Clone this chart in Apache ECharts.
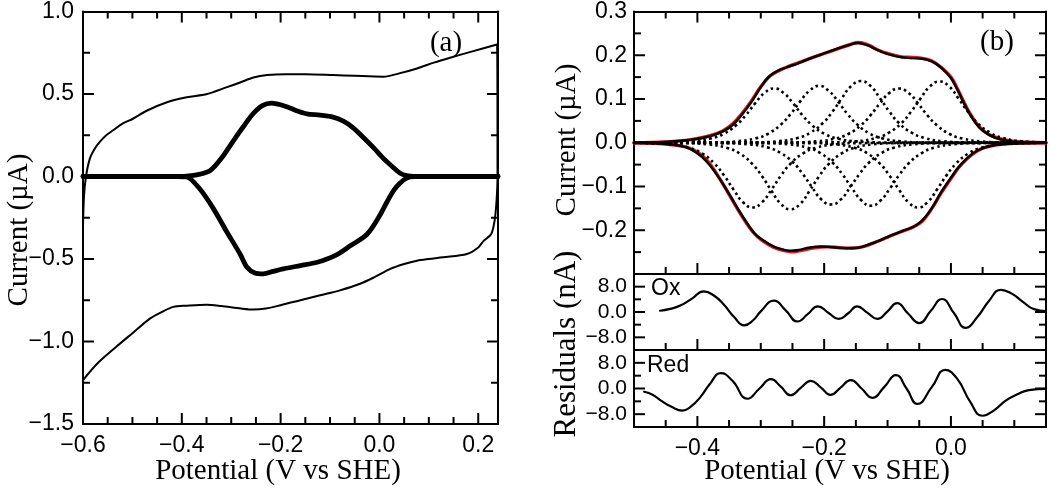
<!DOCTYPE html>
<html>
<head>
<meta charset="utf-8">
<script src="https://cdn.jsdelivr.net/npm/echarts@6/dist/echarts.min.js"></script>
<style>
  html, body { margin: 0; background: #fff; }
  #chart { width: 1050px; height: 489px; }
</style>
</head>
<body>
<div id="chart"></div>
<script>
// ---- panel (a): cyclic voltammograms, [potential V, current uA] ----
const cvBackground = [
  [-0.6, -0.3], [-0.598, -0.12], [-0.594, 0.0], [-0.586, 0.11], [-0.576, 0.17], [-0.566, 0.21],
  [-0.553, 0.25], [-0.539, 0.28], [-0.52, 0.32], [-0.499, 0.35], [-0.47, 0.40], [-0.43, 0.45],
  [-0.39, 0.48], [-0.349, 0.50], [-0.31, 0.54], [-0.282, 0.57], [-0.255, 0.60], [-0.227, 0.615],
  [-0.19, 0.62], [-0.15, 0.62], [-0.094, 0.615], [-0.05, 0.61], [0.008, 0.605], [0.04, 0.625],
  [0.076, 0.655], [0.11, 0.69], [0.143, 0.72], [0.19, 0.76], [0.238, 0.8],
  [0.239, 0.0], [0.237, -0.15], [0.233, -0.27], [0.226, -0.35], [0.211, -0.39], [0.2, -0.43],
  [0.177, -0.47], [0.129, -0.49], [0.1, -0.50], [0.076, -0.51], [0.05, -0.53], [0.022, -0.56],
  [-0.01, -0.61], [-0.039, -0.65], [-0.08, -0.69], [-0.12, -0.72], [-0.16, -0.75], [-0.2, -0.78],
  [-0.23, -0.80], [-0.255, -0.806], [-0.28, -0.80], [-0.32, -0.785], [-0.35, -0.777], [-0.39, -0.783],
  [-0.417, -0.79], [-0.44, -0.82], [-0.464, -0.86], [-0.5, -0.95], [-0.532, -1.03], [-0.57, -1.13],
  [-0.6, -1.234]
];
const cvProteinOx = [
  [-0.6, 0], [-0.40, 0], [-0.39, 0.002], [-0.37, 0.01], [-0.343, 0.035], [-0.32, 0.11],
  [-0.296, 0.215], [-0.276, 0.30], [-0.256, 0.38], [-0.237, 0.43], [-0.218, 0.445], [-0.2, 0.435],
  [-0.181, 0.415], [-0.164, 0.395], [-0.147, 0.38], [-0.12, 0.372], [-0.094, 0.36], [-0.073, 0.335],
  [-0.053, 0.295], [-0.032, 0.235], [-0.012, 0.175], [0.008, 0.11], [0.028, 0.055], [0.042, 0.02],
  [0.055, 0.005], [0.07, 0], [0.24, 0]
];
const cvProteinRed = [
  [-0.6, 0], [-0.41, 0], [-0.39, -0.003], [-0.365, -0.07], [-0.337, -0.19], [-0.31, -0.33],
  [-0.282, -0.47], [-0.268, -0.55], [-0.252, -0.585], [-0.235, -0.59], [-0.215, -0.575],
  [-0.195, -0.56], [-0.16, -0.54], [-0.126, -0.52], [-0.09, -0.48], [-0.059, -0.42],
  [-0.025, -0.35], [0.0, -0.24], [0.016, -0.15], [0.03, -0.08], [0.042, -0.04], [0.055, -0.01],
  [0.07, 0], [0.24, 0]
];

// ---- panel (b): baseline-subtracted data and fit, [potential V, current uA] ----
const measOx = [
  [-0.50, 0], [-0.46, 0.001], [-0.43, 0.004], [-0.40, 0.009], [-0.38, 0.015], [-0.36, 0.026],
  [-0.345, 0.040], [-0.33, 0.064], [-0.315, 0.093], [-0.30, 0.127], [-0.288, 0.150], [-0.275, 0.163],
  [-0.26, 0.172], [-0.242, 0.181], [-0.225, 0.191], [-0.21, 0.199], [-0.195, 0.207], [-0.179, 0.215],
  [-0.162, 0.223], [-0.147, 0.228], [-0.132, 0.223], [-0.116, 0.212], [-0.10, 0.203], [-0.084, 0.197],
  [-0.068, 0.194], [-0.052, 0.193], [-0.038, 0.190], [-0.025, 0.182], [-0.012, 0.167], [0.0, 0.148],
  [0.01, 0.122], [0.02, 0.092], [0.03, 0.065], [0.044, 0.036], [0.06, 0.018], [0.075, 0.009],
  [0.095, 0.003], [0.12, 0.001], [0.15, 0]
];
const measRed = [
  [-0.50, 0], [-0.46, -0.002], [-0.43, -0.006], [-0.41, -0.015], [-0.393, -0.032], [-0.38, -0.052],
  [-0.365, -0.082], [-0.35, -0.117], [-0.33, -0.165], [-0.31, -0.207], [-0.295, -0.224], [-0.28, -0.237],
  [-0.265, -0.244], [-0.253, -0.247], [-0.24, -0.245], [-0.225, -0.240], [-0.205, -0.237],
  [-0.185, -0.239], [-0.165, -0.241], [-0.147, -0.240], [-0.13, -0.233], [-0.115, -0.225],
  [-0.098, -0.214], [-0.084, -0.206], [-0.066, -0.196], [-0.052, -0.186], [-0.04, -0.169],
  [-0.028, -0.145], [-0.015, -0.112], [0.0, -0.080], [0.012, -0.056], [0.023, -0.039], [0.037, -0.022],
  [0.05, -0.013], [0.07, -0.005], [0.10, -0.002], [0.15, 0]
];
const fitOx = [
  [-0.50, 0], [-0.45, 0.002], [-0.41, 0.007], [-0.38, 0.016], [-0.36, 0.027], [-0.345, 0.042],
  [-0.33, 0.066], [-0.315, 0.095], [-0.30, 0.128], [-0.285, 0.153], [-0.27, 0.166], [-0.255, 0.175],
  [-0.24, 0.183], [-0.22, 0.194], [-0.20, 0.204], [-0.18, 0.214], [-0.16, 0.224], [-0.145, 0.229],
  [-0.13, 0.223], [-0.115, 0.212], [-0.10, 0.204], [-0.08, 0.197], [-0.06, 0.195], [-0.045, 0.193],
  [-0.03, 0.187], [-0.015, 0.172], [0.0, 0.150], [0.01, 0.124], [0.02, 0.094], [0.03, 0.067],
  [0.045, 0.036], [0.06, 0.019], [0.08, 0.008], [0.10, 0.003], [0.15, 0]
];
const fitRed = [
  [-0.50, 0], [-0.45, -0.003], [-0.42, -0.009], [-0.40, -0.021], [-0.385, -0.04], [-0.37, -0.07],
  [-0.35, -0.118], [-0.33, -0.167], [-0.31, -0.208], [-0.295, -0.226], [-0.28, -0.239], [-0.265, -0.246],
  [-0.25, -0.249], [-0.235, -0.246], [-0.215, -0.240], [-0.195, -0.238], [-0.175, -0.240],
  [-0.155, -0.241], [-0.14, -0.238], [-0.12, -0.228], [-0.10, -0.216], [-0.08, -0.204], [-0.06, -0.193],
  [-0.045, -0.179], [-0.03, -0.150], [-0.015, -0.114], [0.0, -0.082], [0.012, -0.057], [0.025, -0.037],
  [0.04, -0.020], [0.055, -0.010], [0.075, -0.004], [0.10, -0.001], [0.15, 0]
];

// fitted single-electron components (dotted)
const compOx1 = [[-0.5, 0], [-0.449, 0.0007], [-0.409, 0.0031], [-0.379, 0.0097], [-0.359, 0.020], [-0.339, 0.040], [-0.324, 0.0625], [-0.309, 0.090], [-0.294, 0.114], [-0.279, 0.124], [-0.264, 0.114], [-0.249, 0.090], [-0.234, 0.0625], [-0.219, 0.040], [-0.199, 0.020], [-0.179, 0.0097], [-0.149, 0.0031], [-0.109, 0.0007], [0.15, 0]];
const compOx2 = [[-0.5, 0], [-0.378, 0.0007], [-0.338, 0.0033], [-0.308, 0.010], [-0.288, 0.021], [-0.268, 0.042], [-0.253, 0.0655], [-0.238, 0.094], [-0.223, 0.119], [-0.208, 0.130], [-0.193, 0.119], [-0.178, 0.094], [-0.163, 0.0655], [-0.148, 0.042], [-0.128, 0.021], [-0.108, 0.010], [-0.078, 0.0033], [-0.038, 0.0007], [0.15, 0]];
const compOx3 = [[-0.5, 0], [-0.312, 0.0008], [-0.272, 0.0035], [-0.242, 0.011], [-0.222, 0.023], [-0.202, 0.045], [-0.187, 0.071], [-0.172, 0.102], [-0.157, 0.130], [-0.142, 0.141], [-0.127, 0.130], [-0.112, 0.102], [-0.097, 0.071], [-0.082, 0.045], [-0.062, 0.023], [-0.042, 0.011], [-0.012, 0.0035], [0.028, 0.0008], [0.15, 0]];
const compOx4 = [[-0.5, 0], [-0.252, 0.0007], [-0.212, 0.0031], [-0.182, 0.0097], [-0.162, 0.020], [-0.142, 0.040], [-0.127, 0.0625], [-0.112, 0.090], [-0.097, 0.114], [-0.082, 0.124], [-0.067, 0.114], [-0.052, 0.090], [-0.037, 0.0625], [-0.022, 0.040], [-0.002, 0.020], [0.018, 0.0097], [0.048, 0.0031], [0.088, 0.0007], [0.15, 0]];
const compOx5 = [[-0.5, 0], [-0.188, 0.0008], [-0.148, 0.0035], [-0.118, 0.011], [-0.098, 0.023], [-0.078, 0.045], [-0.063, 0.0706], [-0.048, 0.101], [-0.033, 0.129], [-0.018, 0.140], [-0.003, 0.129], [0.012, 0.101], [0.027, 0.0706], [0.042, 0.045], [0.062, 0.023], [0.082, 0.011], [0.112, 0.0035], [0.15, 0.0008]];
const compRed1 = [[-0.5, -0.0004], [-0.483, -0.0008], [-0.443, -0.0037], [-0.413, -0.0115], [-0.393, -0.0241], [-0.373, -0.0477], [-0.358, -0.0746], [-0.343, -0.107], [-0.328, -0.136], [-0.313, -0.148], [-0.298, -0.136], [-0.283, -0.107], [-0.268, -0.0746], [-0.253, -0.0477], [-0.233, -0.0241], [-0.213, -0.0115], [-0.183, -0.0037], [-0.143, -0.0008], [0.15, 0]];
const compRed2 = [[-0.5, 0], [-0.423, -0.0008], [-0.383, -0.0038], [-0.353, -0.0119], [-0.333, -0.0248], [-0.313, -0.049], [-0.298, -0.0766], [-0.283, -0.110], [-0.268, -0.140], [-0.253, -0.152], [-0.238, -0.140], [-0.223, -0.110], [-0.208, -0.0766], [-0.193, -0.049], [-0.173, -0.0248], [-0.153, -0.0119], [-0.123, -0.0038], [-0.083, -0.0008], [0.15, 0]];
const compRed3 = [[-0.5, 0], [-0.359, -0.0008], [-0.319, -0.0035], [-0.289, -0.011], [-0.269, -0.023], [-0.249, -0.045], [-0.234, -0.071], [-0.219, -0.102], [-0.204, -0.130], [-0.189, -0.141], [-0.174, -0.130], [-0.159, -0.102], [-0.144, -0.071], [-0.129, -0.045], [-0.109, -0.023], [-0.089, -0.011], [-0.059, -0.0035], [-0.019, -0.0008], [0.15, 0]];
const compRed4 = [[-0.5, 0], [-0.296, -0.0008], [-0.256, -0.0036], [-0.226, -0.0112], [-0.206, -0.0235], [-0.186, -0.0464], [-0.171, -0.0726], [-0.156, -0.104], [-0.141, -0.132], [-0.126, -0.144], [-0.111, -0.132], [-0.096, -0.104], [-0.081, -0.0726], [-0.066, -0.0464], [-0.046, -0.0235], [-0.026, -0.0112], [0.004, -0.0036], [0.044, -0.0008], [0.15, 0]];
const compRed5 = [[-0.5, 0], [-0.222, -0.0008], [-0.182, -0.0037], [-0.152, -0.0115], [-0.132, -0.0241], [-0.112, -0.0477], [-0.097, -0.0746], [-0.082, -0.107], [-0.067, -0.136], [-0.052, -0.148], [-0.037, -0.136], [-0.022, -0.107], [-0.007, -0.0746], [0.008, -0.0477], [0.028, -0.0241], [0.048, -0.0115], [0.078, -0.0037], [0.118, -0.0008], [0.15, 0]];

// ---- residuals, [potential V, current nA] ----
const residOx = [
  [-0.459, 0.4], [-0.443, 1.0], [-0.426, 2.1], [-0.408, 4.3], [-0.39, 6.5], [-0.374, 5.2],
  [-0.358, 2.3], [-0.342, -1.6], [-0.326, -4.2], [-0.312, -2.6], [-0.300, 0.2], [-0.279, 3.6],
  [-0.261, 0.6], [-0.242, -3.0], [-0.226, -0.7], [-0.210, 1.8], [-0.193, -0.3], [-0.177, -2.2],
  [-0.162, -0.4], [-0.148, 1.8], [-0.132, -0.2], [-0.116, -2.2], [-0.100, 0.2], [-0.085, 2.8],
  [-0.068, -0.4], [-0.050, -3.5], [-0.032, 0.3], [-0.014, 4.1], [0.005, -0.4], [0.023, -5.0],
  [0.042, -1.5], [0.06, 3.5], [0.079, 7.0], [0.096, 5.8], [0.113, 3.3], [0.131, 0.9], [0.15, 0.3]
];
const residRed = [
  [-0.484, -1.0], [-0.47, -2.0], [-0.458, -3.7], [-0.44, -5.8], [-0.424, -6.9], [-0.41, -5.6],
  [-0.395, -2.6], [-0.38, 1.5], [-0.363, 4.8], [-0.345, 2.5], [-0.321, -3.2], [-0.302, 0.0],
  [-0.284, 2.9], [-0.268, 0.5], [-0.253, -2.1], [-0.237, 0.2], [-0.221, 2.4], [-0.205, 0.3],
  [-0.19, -2.0], [-0.174, 0.3], [-0.158, 2.6], [-0.141, 0.0], [-0.124, -2.9], [-0.105, 0.5],
  [-0.087, 4.2], [-0.07, 0.0], [-0.053, -4.8], [-0.03, 0.5], [-0.009, 5.8], [0.01, 3.0],
  [0.03, -4.0], [0.05, -8.5], [0.068, -6.8], [0.087, -3.7], [0.105, -1.8], [0.123, -0.5], [0.15, -0.1]
];

// ---- tick labels ----
const aXTicks = [-0.6, -0.4, -0.2, 0.0, 0.2];
const aYTicks = [-1.5, -1.0, -0.5, 0.0, 0.5, 1.0];
const bXTicks = [-0.4, -0.2, 0.0];
const bYTicks = [-0.2, -0.1, 0.0, 0.1, 0.2, 0.3];
const resYTicks = [-8, 0, 8];

const SANS = 'Liberation Sans, Arial, sans-serif';
const SERIF = 'Liberation Serif, Times New Roman, serif';
const fmt = v => (v < 0 ? '\u2212' : '') + Math.abs(v).toFixed(1);

const grids = [], xAxes = [], yAxes = [], series = [];

function boxAxis(g, pos, r, label) {
  return { type: 'value', gridIndex: g, position: pos, min: r[0], max: r[1],
    splitLine: { show: false },
    axisLine: { show: true, onZero: false, lineStyle: { color: '#000', width: 2 } },
    axisTick: { show: false },
    axisLabel: label || { show: false } };
}
function tickLabels(values, margin, size) {
  return { show: true, customValues: values, formatter: fmt, margin: margin,
    color: '#000', fontFamily: SANS, fontSize: size };
}
// minor positions between the majors, stepping from the axis minimum
function minorValues(r, step, majors) {
  const out = [];
  for (let k = Math.ceil(r[0] / step - 1e-9); k * step <= r[1] + 1e-9; k++) {
    const v = +(k * step).toFixed(6);
    if (v > r[0] + 1e-9 && v < r[1] - 1e-9 && !majors.some(m => Math.abs(m - v) < 1e-9)) out.push(v);
  }
  return out;
}

// inward tick marks drawn in the panel's own coordinate system
function tickSeries(p, xr, yr, o) {
  const items = [];
  o.xMajor.forEach(v => items.push([0, v, 1]));
  minorValues(xr, o.xMinor, o.xMajor).forEach(v => items.push([0, v, 0]));
  o.yTickMajor.forEach(v => items.push([1, v, 1]));
  minorValues(yr, o.yMinor, o.yTickMajor).forEach(v => items.push([1, v, 0]));
  return {
    type: 'custom', xAxisIndex: p.x, yAxisIndex: p.y, data: items, silent: true, clip: false, z: 4,
    encode: { x: 1, y: 1 },
    renderItem: (params, api) => {
      const cs = params.coordSys;
      const kind = api.value(0), v = api.value(1), len = api.value(2) ? 11 : 7;
      const st = { stroke: '#000', lineWidth: 2 };
      const kids = [];
      if (kind === 0) {
        const x = api.coord([v, yr[0]])[0];
        const b = cs.y + cs.height;
        if (x <= cs.x + 1 || x >= cs.x + cs.width - 1) return null;
        kids.push({ type: 'line', shape: { x1: x, y1: b, x2: x, y2: b - len }, style: st });
        if (o.topTicks) kids.push({ type: 'line', shape: { x1: x, y1: cs.y, x2: x, y2: cs.y + len }, style: st });
      } else {
        const y = api.coord([xr[0], v])[1];
        if (y <= cs.y + 1 || y >= cs.y + cs.height - 1) return null;
        const r = cs.x + cs.width;
        kids.push({ type: 'line', shape: { x1: cs.x, y1: y, x2: cs.x + len, y2: y }, style: st });
        kids.push({ type: 'line', shape: { x1: r, y1: y, x2: r - len, y2: y }, style: st });
      }
      return { type: 'group', children: kids };
    }
  };
}

function addPanel(rect, xr, yr, o) {
  const g = grids.length;
  grids.push(Object.assign({ containLabel: false }, rect));
  const xi = xAxes.length, yi = yAxes.length;
  xAxes.push(boxAxis(g, 'bottom', xr, o.xLabels ? tickLabels(o.xMajor, 10, 23) : null));
  if (o.topTicks) xAxes.push(boxAxis(g, 'top', xr, null));
  yAxes.push(boxAxis(g, 'left', yr, tickLabels(o.yMajor, o.yMargin, o.yFont)));
  yAxes.push(boxAxis(g, 'right', yr, null));
  const p = { x: xi, y: yi };
  series.push(tickSeries(p, xr, yr, o));
  return p;
}

const pA = addPanel({ left: 83, top: 10, width: 415, height: 414 }, [-0.6, 0.24], [-1.5, 1.0],
  { xMajor: aXTicks, yMajor: aYTicks, yTickMajor: aYTicks, xMinor: 0.05, yMinor: 0.25,
    topTicks: true, xLabels: true, yMargin: 9, yFont: 23 });
const pB = addPanel({ left: 634, top: 11, width: 412, height: 263 }, [-0.5, 0.15], [-0.3, 0.3],
  { xMajor: bXTicks, yMajor: bYTicks, yTickMajor: bYTicks, xMinor: 0.05, yMinor: 0.05,
    topTicks: true, xLabels: false, yMargin: 7, yFont: 23 });
const pOx = addPanel({ left: 634, top: 274, width: 412, height: 76 }, [-0.5, 0.15], [-12, 12],
  { xMajor: bXTicks, yMajor: resYTicks, yTickMajor: resYTicks, xMinor: 0.05, yMinor: 4,
    topTicks: false, xLabels: false, yMargin: 7, yFont: 21 });
const pRed = addPanel({ left: 634, top: 350, width: 412, height: 77 }, [-0.5, 0.15], [-12, 12],
  { xMajor: bXTicks, yMajor: resYTicks, yTickMajor: resYTicks, xMinor: 0.05, yMinor: 4,
    topTicks: false, xLabels: true, yMargin: 7, yFont: 21 });

function line(data, p, style, smooth) {
  return { type: 'line', data, xAxisIndex: p.x, yAxisIndex: p.y, showSymbol: false,
    smooth: smooth, lineStyle: style };
}
const solid = (w, c) => ({ color: c || '#000', width: w, cap: 'round', join: 'round' });
const dotted = () => ({ color: '#000', width: 2.6, type: [2.6, 3.2], cap: 'butt' });

series.push(
  line(cvBackground, pA, solid(2), 0.3),
  line(cvProteinOx, pA, solid(4.8), 0.3),
  line(cvProteinRed, pA, solid(4.8), 0.3),
  line(fitOx, pB, solid(3.4, '#e8141e'), 0.4),
  line(fitRed, pB, solid(3.4, '#e8141e'), 0.4)
);
[compOx1, compOx2, compOx3, compOx4, compOx5, compRed1, compRed2, compRed3, compRed4, compRed5]
  .forEach(c => series.push(line(c, pB, dotted(), 0.5)));
series.push(line(measOx, pB, solid(2.4), 0.4), line(measRed, pB, solid(2.4), 0.4));
series.push(line(residOx, pOx, solid(2.2), 0.5), line(residRed, pRed, solid(2.2), 0.5));

function label(text, x, y, font, rot, align) {
  return { type: 'text', x, y, rotation: rot || 0, silent: true,
    style: { text, font, fill: '#000', align: align || 'center', verticalAlign: 'middle' } };
}
const titleFont = '29px ' + SERIF;

const chart = echarts.init(document.getElementById('chart'));
chart.setOption({
  animation: false,
  grid: grids,
  xAxis: xAxes,
  yAxis: yAxes,
  series,
  graphic: [
    label('Potential (V vs SHE)', 278, 471, titleFont),
    label('Potential (V vs SHE)', 827, 471, titleFont),
    label('Current (\u00b5A)', 19, 230, titleFont, Math.PI / 2),
    label('Current (\u00b5A)', 567, 140, titleFont, Math.PI / 2),
    label('Residuals (nA)', 567, 344, '31px ' + SERIF, Math.PI / 2),
    label('(a)', 446, 43, titleFont),
    label('(b)', 997, 42, titleFont),
    label('Ox', 651, 289, '23px ' + SANS, 0, 'left'),
    label('Red', 647, 366, '23px ' + SANS, 0, 'left')
  ]
});
</script>
</body>
</html>
